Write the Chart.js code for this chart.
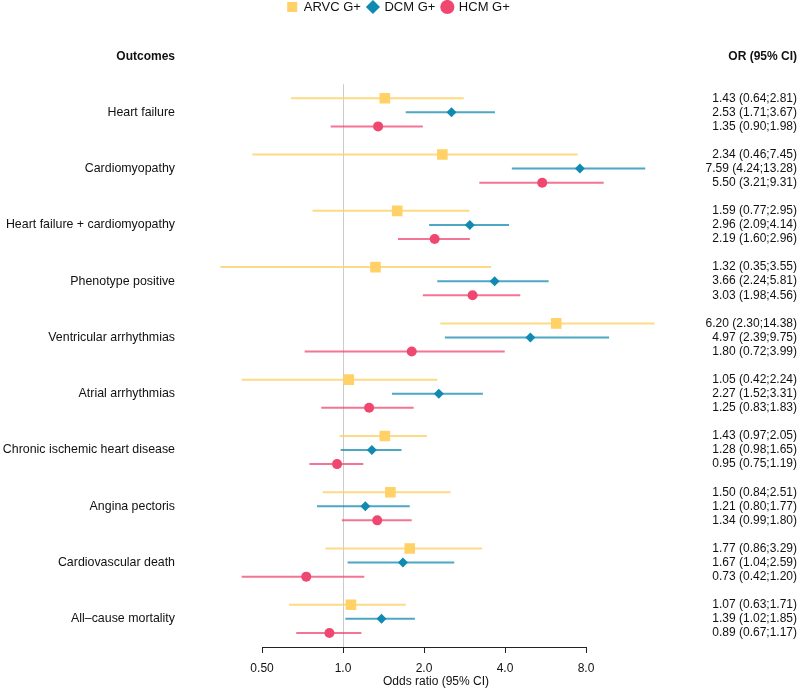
<!DOCTYPE html>
<html>
<head>
<meta charset="utf-8">
<title>Forest plot</title>
<script src="https://cdn.jsdelivr.net/npm/chart.js@4.4.1/dist/chart.umd.min.js"></script>
<style>
    body { margin: 0; background: #fff; }
</style>
</head>
<body>
<canvas id="myChart" width="800" height="689"></canvas>
<script>
var outcomes = ['Heart failure', 'Cardiomyopathy', 'Heart failure + cardiomyopathy',
    'Phenotype positive', 'Ventricular arrhythmias', 'Atrial arrhythmias',
    'Chronic ischemic heart disease', 'Angina pectoris', 'Cardiovascular death',
    'All\u2013cause mortality'];
var seriesNames = ['ARVC G+', 'DCM G+', 'HCM G+'];

var arvcOR   = [1.43, 2.34, 1.59, 1.32, 6.20, 1.05, 1.43, 1.50, 1.77, 1.07];
var arvcLow  = [0.64, 0.46, 0.77, 0.35, 2.30, 0.42, 0.97, 0.84, 0.86, 0.63];
var arvcHigh = [2.81, 7.45, 2.95, 3.55, 14.38, 2.24, 2.05, 2.51, 3.29, 1.71];

var dcmOR   = [2.53, 7.59, 2.96, 3.66, 4.97, 2.27, 1.28, 1.21, 1.67, 1.39];
var dcmLow  = [1.71, 4.24, 2.09, 2.24, 2.39, 1.52, 0.98, 0.80, 1.04, 1.02];
var dcmHigh = [3.67, 13.28, 4.14, 5.81, 9.75, 3.31, 1.65, 1.77, 2.59, 1.85];

var hcmOR   = [1.35, 5.50, 2.19, 3.03, 1.80, 1.25, 0.95, 1.34, 0.73, 0.89];
var hcmLow  = [0.90, 3.21, 1.60, 1.98, 0.72, 0.83, 0.75, 0.99, 0.42, 0.67];
var hcmHigh = [1.98, 9.31, 2.96, 4.56, 3.99, 1.83, 1.19, 1.80, 1.20, 1.17];

var xTicks = [0.5, 1, 2, 4, 8];
var xTickLabels = ['0.50', '1.0', '2.0', '4.0', '8.0'];

var series = [
    { or: arvcOR, low: arvcLow, high: arvcHigh },
    { or: dcmOR, low: dcmLow, high: dcmHigh },
    { or: hcmOR, low: hcmLow, high: hcmHigh }
];

var colors = ['#FFD166', '#118AB2', '#EF476F'];
var lineColors = ['rgba(255, 209, 102, 0.8)', 'rgba(17, 138, 178, 0.75)', 'rgba(239, 71, 111, 0.75)'];
var shapes = ['rect', 'rectRot', 'circle'];
var radius = [7.5, 5, 5];

var font = "'Liberation Sans', Arial, Helvetica, sans-serif";
Chart.defaults.font.family = font;
Chart.defaults.color = '#111';

var leftWidth = 200;   // room for the outcome names
var rightWidth = 125;  // room for the OR column
var leftPad = 25;
var titlePadTop = 26.3;

// each outcome uses 4 rows: ARVC, DCM, HCM and a gap
function row(i, k) {
    return i * 4 + k;
}

var datasets = [];
series.forEach(function (s, k) {
    datasets.push({
        label: seriesNames[k],
        data: s.or.map(function (v, i) { return { x: v, y: row(i, k) }; }),
        pointStyle: shapes[k],
        pointRadius: radius[k],
        backgroundColor: colors[k],
        borderColor: colors[k],
        borderWidth: 0
    });
});
// confidence intervals (drawn under the points)
series.forEach(function (s, k) {
    var pts = [];
    s.or.forEach(function (v, i) {
        pts.push({ x: s.low[i], y: row(i, k) });
        pts.push({ x: s.high[i], y: row(i, k) });
        pts.push({ x: s.low[i], y: null });
    });
    datasets.push({
        label: seriesNames[k] + ' CI',
        data: pts,
        showLine: true,
        pointRadius: 0,
        borderColor: lineColors[k],
        borderWidth: 2
    });
});

// tick lists for both y axes
var leftValues = [], rightValues = [], rightLabels = [];
outcomes.forEach(function (o, i) {
    leftValues.push(row(i, 1));
    series.forEach(function (s, k) {
        rightValues.push(row(i, k));
        rightLabels.push(s.or[i].toFixed(2) + ' (' + s.low[i].toFixed(2) + ';' + s.high[i].toFixed(2) + ')');
    });
});

var measure = document.createElement('canvas').getContext('2d');
measure.font = '12px ' + font;
var widest = 0;
rightLabels.forEach(function (t) {
    widest = Math.max(widest, measure.measureText(t).width);
});

var extras = {
    id: 'extras',
    afterDraw: function (chart) {
        var c = chart.ctx;
        var x = chart.scales.x;
        var yb = Math.round(chart.chartArea.bottom) + 0.5;
        c.save();
        c.strokeStyle = '#222';
        c.lineWidth = 1;
        c.beginPath();
        c.moveTo(x.getPixelForValue(xTicks[0]), yb);
        c.lineTo(x.getPixelForValue(xTicks[xTicks.length - 1]), yb);
        c.stroke();

        var tb = chart.titleBlock;
        c.font = 'bold 12px ' + font;
        c.fillStyle = '#111';
        c.textAlign = 'right';
        c.textBaseline = 'middle';
        c.fillText('Outcomes', chart.scales.y.right - leftPad, tb.top + titlePadTop + 7.2);
        c.restore();
    }
};

new Chart(document.getElementById('myChart'), {
    type: 'scatter',
    data: { datasets: datasets },
    plugins: [extras],
    options: {
        responsive: false,
        animation: false,
        events: [],
        layout: { padding: { top: -6.5, right: 3, bottom: 0, left: 0 } },
        plugins: {
            legend: {
                position: 'top',
                weight: 3000,
                labels: {
                    usePointStyle: true,
                    boxWidth: 10,
                    boxHeight: 10,
                    padding: 7,
                    color: '#111',
                    font: { size: 13 },
                    filter: function (item) { return item.datasetIndex < seriesNames.length; }
                }
            },
            title: {
                display: true,
                text: 'OR (95% CI)',
                align: 'end',
                color: '#111',
                font: { size: 12, weight: 'bold' },
                padding: { top: titlePadTop, bottom: 20 }
            },
            tooltip: { enabled: false }
        },
        scales: {
            x: {
                type: 'logarithmic',
                min: 0.294,
                max: 16.7,
                afterBuildTicks: function (scale) {
                    scale.ticks = xTicks.map(function (v) { return { value: v }; });
                },
                afterFit: function (scale) { scale.height = 42; },
                border: { display: false },
                grid: {
                    color: function (ctx) { return ctx.tick && ctx.tick.value === 1 ? '#cccccc' : 'rgba(0,0,0,0)'; },
                    tickColor: '#222',
                    tickLength: 6,
                    lineWidth: 1
                },
                ticks: {
                    autoSkip: false,
                    maxRotation: 0,
                    padding: 8,
                    color: '#111',
                    font: { size: 12 },
                    callback: function (value, index) { return xTickLabels[index]; }
                },
                title: {
                    display: true,
                    text: 'Odds ratio (95% CI)',
                    color: '#111',
                    font: { size: 12 },
                    padding: { top: 0, bottom: 0 }
                }
            },
            y: {
                position: 'left',
                min: -1,
                max: 39,
                reverse: true,
                afterBuildTicks: function (scale) {
                    scale.ticks = leftValues.map(function (v) { return { value: v }; });
                },
                afterFit: function (scale) { scale.width = leftWidth; },
                border: { display: false },
                grid: { display: false, drawTicks: false },
                ticks: {
                    autoSkip: false,
                    padding: leftPad,
                    color: '#111',
                    font: { size: 12.4 },
                    callback: function (value, index) { return outcomes[index]; }
                }
            },
            y2: {
                position: 'right',
                min: -1,
                max: 39,
                reverse: true,
                afterBuildTicks: function (scale) {
                    scale.ticks = rightValues.map(function (v) { return { value: v }; });
                },
                afterFit: function (scale) { scale.width = rightWidth; },
                border: { display: false },
                grid: { display: false, drawTicks: false },
                ticks: {
                    autoSkip: false,
                    crossAlign: 'far',
                    padding: rightWidth - widest,
                    color: '#111',
                    font: { size: 12 },
                    callback: function (value, index) { return rightLabels[index]; }
                }
            }
        }
    }
});
</script>
</body>
</html>
